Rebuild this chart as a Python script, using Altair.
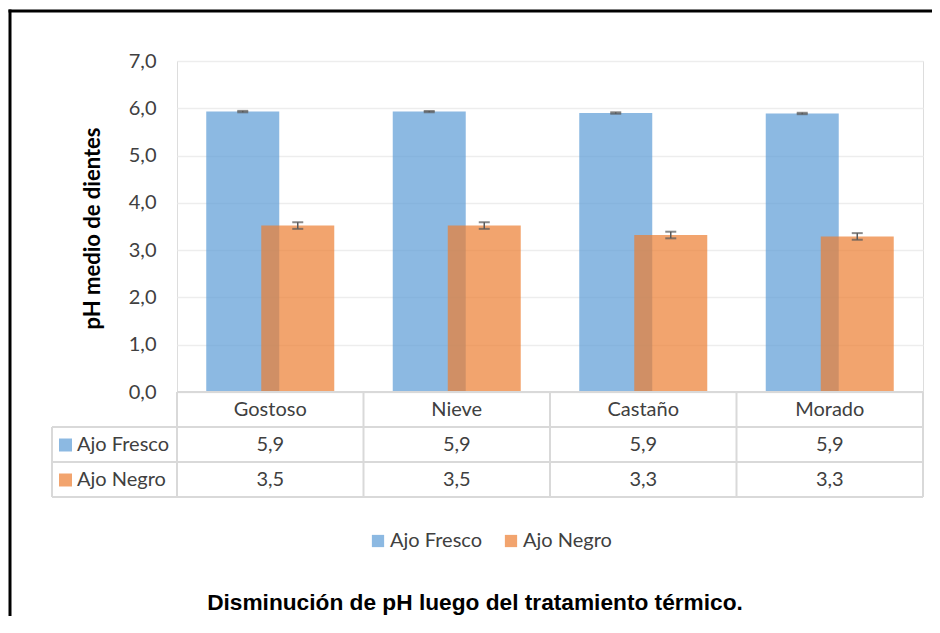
import altair as alt
import pandas as pd

categorias = ["Gostoso", "Nieve", "Castaño", "Morado"]
series = ["Ajo Fresco", "Ajo Negro"]
ph_fresco = [5.93, 5.93, 5.90, 5.89]
ph_negro = [3.52, 3.52, 3.32, 3.29]
err_fresco = [0.015, 0.015, 0.015, 0.015]
err_negro = [0.07, 0.07, 0.07, 0.07]
colores = ["#5B9BD5", "#ED7D31"]
titulo = "Disminución de pH luego del tratamiento térmico."
titulo_y = "pH medio de dientes"

rows = []
for s, vals, errs in [(series[0], ph_fresco, err_fresco), (series[1], ph_negro, err_negro)]:
    for c, v, e in zip(categorias, vals, errs):
        rows.append({"categoria": c, "serie": s, "valor": v, "lo": v - e, "hi": v + e})
df = pd.DataFrame(rows)
cat_df = pd.DataFrame({"categoria": categorias})
one = pd.DataFrame({"k": [0]})

FONT = "Lato"
TXT = "#404040"
GRIDC = "#D9D9D9"
W, H = 746, 331
PAD = {"left": 169, "top": 53, "right": 9, "bottom": 224}

xs = alt.Scale(domain=categorias, paddingInner=0, paddingOuter=0)
X = alt.X("categoria:N", sort=categorias, scale=xs, axis=None)
XO = alt.XOffset("serie:N", sort=series,
                 scale=alt.Scale(domain=series, paddingInner=0, paddingOuter=0.695))
ys = alt.Scale(domain=[0, 7])
yaxis = alt.Axis(values=[0, 1, 2, 3, 4, 5, 6, 7],
                 labelExpr="replace(format(datum.value, '.1f'), '.', ',')",
                 domain=False, ticks=False, labelPadding=21,
                 labelFont=FONT, labelFontSize=20, labelColor=TXT,
                 gridColor="#EDEDED", gridWidth=1.5,
                 titleFont=FONT, titleFontSize=22, titleFontWeight="bold",
                 titleColor="#000000", titleX=-85, titleY=167,
                 titleAngle=270, titleAlign="center", titleBaseline="middle")

base = alt.Chart(df)

bars = base.mark_bar(width=73, opacity=0.7).encode(
    x=X, xOffset=XO,
    y=alt.Y("valor:Q", scale=ys, title=titulo_y, axis=yaxis),
    color=alt.Color("serie:N", sort=series,
                    scale=alt.Scale(domain=series, range=colores),
                    legend=alt.Legend(title=None, orient="none", direction="horizontal",
                                      legendX=191, legendY=470, padding=0,
                                      symbolType="square", symbolSize=150,
                                      symbolStrokeWidth=0, symbolOpacity=0.7,
                                      labelFont=FONT, labelFontSize=20,
                                      labelColor=TXT, columnPadding=18,
                                      labelOffset=2)),
)

rule_err = base.mark_rule(color="#595959", strokeWidth=1.5).encode(
    x=X, xOffset=XO, y=alt.Y("lo:Q", scale=ys, title=titulo_y, axis=yaxis), y2="hi:Q")
cap_hi = base.mark_tick(color="#595959", thickness=2, size=11).encode(
    x=X, xOffset=XO, y=alt.Y("hi:Q", scale=ys, title=titulo_y, axis=yaxis))
cap_lo = base.mark_tick(color="#595959", thickness=2, size=11).encode(
    x=X, xOffset=XO, y=alt.Y("lo:Q", scale=ys, title=titulo_y, axis=yaxis))

# data table
hline = lambda yv, x0: alt.Chart(one).mark_rule(color=GRIDC, strokeWidth=2).encode(
    x=alt.value(x0), x2=alt.value(W), y=alt.value(yv))
hlines = [hline(H, 0), hline(366, -125), hline(401, -125), hline(436, -125)]
vcat = alt.Chart(cat_df).mark_rule(color=GRIDC, strokeWidth=2).encode(
    x=alt.X("categoria:N", sort=categorias, scale=xs, axis=None, bandPosition=0),
    y=alt.value(H), y2=alt.value(436))
vright = alt.Chart(one).mark_rule(color=GRIDC, strokeWidth=2).encode(
    x=alt.value(W), y=alt.value(H), y2=alt.value(436))
vleft = alt.Chart(one).mark_rule(color=GRIDC, strokeWidth=2).encode(
    x=alt.value(-125), y=alt.value(366), y2=alt.value(436))

header = alt.Chart(cat_df).mark_text(font=FONT, fontSize=20, color=TXT).encode(
    x=X, y=alt.value(349), text="categoria:N")

row_layers = []
for i, s in enumerate(series):
    yrow = 384 + 35 * i
    row_layers.append(
        base.transform_filter(alt.datum.serie == s)
        .transform_calculate(etiqueta="replace(format(datum.valor, '.1f'), '.', ',')")
        .mark_text(font=FONT, fontSize=20, color=TXT)
        .encode(x=X, y=alt.value(yrow), text="etiqueta:N"))
    sd = pd.DataFrame({"serie": [s]})
    row_layers.append(
        alt.Chart(sd).mark_square(size=169, opacity=0.7).encode(
            x=alt.value(-111.5), y=alt.value(yrow),
            color=alt.Color("serie:N", sort=series,
                            scale=alt.Scale(domain=series, range=colores), legend=None)))
    row_layers.append(
        alt.Chart(sd).mark_text(font=FONT, fontSize=20, color=TXT, align="left").encode(
            x=alt.value(-100), y=alt.value(yrow), text="serie:N"))

title_mark = alt.Chart(pd.DataFrame({"t": [titulo]})).mark_text(
    font="Liberation Sans", fontSize=22.7, fontWeight="bold", color="#000000"
).encode(x=alt.value(298), y=alt.value(542), text="t:N")

x_right_edge = W + PAD["right"]
y_bottom_edge = H + PAD["bottom"]
# outer frame (top and left edges; the right and bottom lie outside the picture)
border_top = alt.Chart(one).mark_rect(color="#000000").encode(
    x=alt.value(-168.5), x2=alt.value(x_right_edge),
    y=alt.value(-51.5), y2=alt.value(-48.5))
border_left = alt.Chart(one).mark_rect(color="#000000").encode(
    x=alt.value(-168.5), x2=alt.value(-165.5),
    y=alt.value(-51.5), y2=alt.value(y_bottom_edge))

chart = alt.layer(
    bars, rule_err, cap_hi, cap_lo, *hlines, vcat, vright, vleft, header,
    *row_layers, title_mark, border_top, border_left
).properties(
    width=W, height=H,
    padding=PAD,
    autosize=alt.AutoSizeParams(type="none"),
).configure_view(strokeWidth=0, stroke="transparent").configure(background="#FFFFFF")

chart.save("out.html", embed_options={"renderer": "svg", "actions": False})
